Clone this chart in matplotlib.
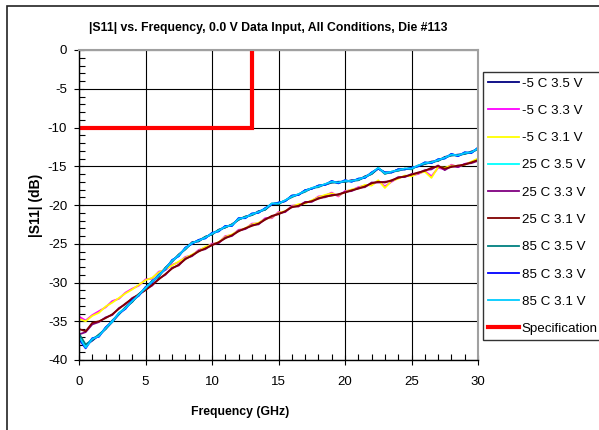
import numpy as np
import matplotlib
matplotlib.use("Agg")
import matplotlib.pyplot as plt
from matplotlib import font_manager
from matplotlib.patches import Rectangle
from matplotlib.ticker import MultipleLocator


def pick_font(*names):
    for n in names:
        try:
            font_manager.findfont(n, fallback_to_default=False)
            return n
        except Exception:
            continue
    return "DejaVu Sans"


FONT = pick_font("Liberation Sans", "Arial")
plt.rcParams["axes.unicode_minus"] = False

# Frequency sweep (GHz), 0.5 GHz steps
freq = np.linspace(0, 30, 61)

# |S11| in dB per condition
s_m5_35 = [-37.2, -38.1, -37.5, -36.8, -36.0, -35.1, -34.1, -33.2, -32.5, -31.5,
           -30.8, -29.8, -29.2, -28.1, -27.3, -26.4, -25.7, -24.8, -24.7, -24.1,
           -23.8, -23.2, -22.9, -22.5, -21.9, -21.5, -21.3, -20.8, -20.6, -19.9,
           -19.7, -19.5, -18.8, -18.7, -18.1, -17.9, -17.5, -17.4, -17.1, -17.0,
           -17.0, -16.8, -16.8, -16.3, -16.0, -15.3, -15.8, -15.8, -15.4, -15.4,
           -15.2, -15.0, -14.7, -14.4, -14.3, -13.8, -13.6, -13.5, -13.4, -13.1,
           -12.8]
s_m5_33 = [-34.4, -34.9, -34.2, -33.7, -33.2, -32.4, -32.1, -31.3, -30.8, -30.4,
           -29.6, -29.5, -28.6, -28.4, -27.7, -27.4, -26.7, -26.5, -25.8, -25.5,
           -25.0, -24.9, -24.0, -23.9, -23.2, -23.1, -22.4, -22.4, -21.7, -21.7,
           -20.9, -20.9, -20.1, -20.0, -19.7, -19.5, -18.9, -18.8, -18.4, -18.9,
           -18.2, -18.1, -17.7, -17.5, -17.4, -16.9, -17.6, -17.0, -16.5, -16.3,
           -16.2, -16.0, -15.6, -16.3, -15.2, -15.4, -14.8, -15.1, -14.7, -14.5,
           -14.1]
s_m5_31 = [-34.7, -35.0, -34.3, -33.9, -33.1, -32.6, -32.0, -31.4, -30.9, -30.3,
           -29.7, -29.4, -28.7, -28.3, -27.8, -27.3, -26.8, -26.4, -25.9, -25.4,
           -25.1, -24.8, -24.1, -23.8, -23.3, -23.0, -22.5, -22.3, -21.8, -21.6,
           -21.0, -20.8, -20.2, -19.9, -19.8, -19.4, -19.0, -18.7, -18.5, -18.8,
           -18.3, -18.0, -17.8, -17.4, -17.5, -16.8, -17.8, -16.9, -16.6, -16.2,
           -16.3, -15.9, -15.7, -16.5, -15.1, -15.2, -14.9, -15.0, -14.8, -14.4,
           -14.0]
s_25_35 = [-37.1, -38.2, -37.2, -36.9, -35.8, -35.1, -33.9, -33.3, -32.3, -31.7,
           -30.6, -30.0, -29.0, -28.3, -27.1, -26.6, -25.5, -25.0, -24.5, -24.3,
           -23.6, -23.4, -22.7, -22.7, -21.7, -21.7, -21.1, -21.0, -20.4, -19.9,
           -19.7, -19.5, -18.8, -18.7, -18.1, -17.9, -17.5, -17.4, -16.9, -17.2,
           -16.8, -17.0, -16.6, -16.5, -15.8, -15.3, -15.8, -15.8, -15.4, -15.4,
           -15.2, -15.0, -14.5, -14.6, -14.1, -14.0, -13.4, -13.7, -13.2, -13.3,
           -12.6]
s_25_33 = [-36.7, -36.4, -35.4, -35.1, -34.5, -34.2, -33.3, -32.8, -32.0, -31.6,
           -30.9, -30.4, -29.5, -29.0, -28.1, -27.8, -26.9, -26.6, -25.9, -25.7,
           -25.1, -24.9, -24.2, -24.0, -23.3, -23.1, -22.6, -22.5, -21.8, -21.5,
           -21.1, -20.9, -20.2, -20.2, -19.6, -19.6, -19.1, -19.0, -18.7, -18.7,
           -18.3, -18.2, -17.8, -17.7, -17.1, -17.1, -17.0, -16.9, -16.4, -16.4,
           -16.0, -15.9, -15.5, -15.4, -14.9, -15.5, -15.0, -15.1, -14.7, -14.6,
           -14.3]
s_25_31 = [-36.0, -36.3, -35.2, -35.0, -34.6, -34.1, -33.4, -32.7, -32.1, -31.5,
           -31.0, -30.3, -29.6, -28.9, -28.2, -27.7, -27.0, -26.5, -26.0, -25.6,
           -25.2, -24.8, -24.3, -23.9, -23.4, -23.0, -22.7, -22.4, -21.9, -21.4,
           -21.2, -20.8, -20.3, -20.1, -19.7, -19.5, -19.2, -18.9, -18.8, -18.6,
           -18.4, -18.1, -17.9, -17.6, -17.2, -17.0, -17.1, -16.8, -16.5, -16.3,
           -16.1, -15.8, -15.6, -15.2, -15.0, -15.3, -15.1, -14.9, -14.8, -14.5,
           -14.2]
s_85_35 = [-36.6, -38.0, -37.4, -36.7, -36.0, -34.9, -34.1, -33.2, -32.5, -31.5,
           -30.8, -29.8, -29.2, -28.1, -27.3, -26.4, -25.7, -24.9, -24.6, -24.1,
           -23.8, -23.2, -22.9, -22.5, -21.9, -21.5, -21.3, -20.9, -20.6, -19.8,
           -19.9, -19.4, -19.0, -18.6, -18.3, -17.8, -17.7, -17.3, -17.1, -17.1,
           -17.0, -16.9, -16.8, -16.4, -16.0, -15.2, -16.0, -15.7, -15.6, -15.3,
           -15.4, -14.9, -14.7, -14.5, -14.3, -13.9, -13.6, -13.6, -13.4, -13.2,
           -12.8]
s_85_33 = [-37.3, -38.5, -37.2, -37.0, -35.8, -35.0, -34.0, -33.4, -32.3, -31.7,
           -30.6, -30.0, -29.0, -28.3, -27.1, -26.6, -25.5, -25.0, -24.5, -24.3,
           -23.6, -23.4, -22.7, -22.7, -21.7, -21.7, -21.1, -21.0, -20.4, -19.9,
           -19.7, -19.5, -18.8, -18.7, -18.1, -17.9, -17.5, -17.4, -16.9, -17.2,
           -16.8, -17.0, -16.6, -16.5, -15.8, -15.3, -15.8, -15.8, -15.4, -15.4,
           -15.2, -15.0, -14.5, -14.6, -14.1, -14.0, -13.4, -13.7, -13.2, -13.3,
           -12.6]
s_85_31 = [-37.0, -38.4, -37.3, -36.9, -35.9, -35.0, -34.0, -33.3, -32.4, -31.6,
           -30.7, -29.9, -29.1, -28.2, -27.2, -26.5, -25.6, -24.9, -24.6, -24.2,
           -23.7, -23.3, -22.8, -22.6, -21.8, -21.6, -21.2, -20.9, -20.5, -19.8,
           -19.8, -19.4, -18.9, -18.6, -18.2, -17.8, -17.6, -17.3, -17.0, -17.1,
           -16.9, -16.9, -16.7, -16.4, -15.9, -15.2, -15.9, -15.7, -15.5, -15.3,
           -15.3, -14.9, -14.6, -14.5, -14.2, -13.9, -13.5, -13.6, -13.3, -13.2,
           -12.7]

series_labels = ["-5 C 3.5 V", "-5 C 3.3 V", "-5 C 3.1 V",
                 "25 C 3.5 V", "25 C 3.3 V", "25 C 3.1 V",
                 "85 C 3.5 V", "85 C 3.3 V", "85 C 3.1 V"]
series_values = [s_m5_35, s_m5_33, s_m5_31,
                 s_25_35, s_25_33, s_25_31,
                 s_85_35, s_85_33, s_85_31]
series_colors = ["#000080", "#FF00FF", "#FFFF00",
                 "#00FFFF", "#800080", "#800000",
                 "#008080", "#0000FF", "#00CCFF"]

# Specification mask: -10 dB up to 13 GHz
spec_freq = [0, 13, 13]
spec_db = [-10, -10, 0]

W, H = 599, 430
fig = plt.figure(figsize=(W / 100, H / 100), dpi=100)
fig.patch.set_facecolor("white")

# outer chart frame
fig.add_artist(Rectangle((6.5 / W, -0.05), 1.2, 1 - 5.5 / H + 0.05,
                         transform=fig.transFigure, fill=False,
                         edgecolor="#222222", linewidth=1.2))

ax = fig.add_axes([79 / W, (H - 360) / H, 399 / W, 310 / H])

for vals, lab, col in zip(series_values, series_labels, series_colors):
    ax.plot(freq, vals, color=col, linewidth=1.3, label=lab)
ax.plot(spec_freq, spec_db, color="#FF0000", linewidth=3.0,
        label="Specification", solid_joinstyle="miter")

ax.set_xlim(0, 30)
ax.set_ylim(-40, 0)
ax.xaxis.set_major_locator(MultipleLocator(5))
ax.xaxis.set_minor_locator(MultipleLocator(1))
ax.yaxis.set_major_locator(MultipleLocator(5))
ax.yaxis.set_minor_locator(MultipleLocator(1))
ax.grid(True, which="major", color="black", linewidth=0.8)
ax.set_axisbelow(True)

ax.tick_params(which="major", direction="inout", length=7, width=0.8,
               labelsize=9.5, pad=5)
ax.tick_params(axis="x", which="major", pad=8)
ax.tick_params(which="minor", direction="in", length=4, width=0.8)
for lab in ax.get_xticklabels() + ax.get_yticklabels():
    lab.set_fontfamily(FONT)

for side in ("left", "bottom"):
    ax.spines[side].set_color("black")
    ax.spines[side].set_linewidth(1.0)
for side in ("top", "right"):
    ax.spines[side].set_color("#A0A0A0")
    ax.spines[side].set_linewidth(1.5)

fig.text(268 / W, 1 - 28 / H,
         "|S11| vs. Frequency, 0.0 V Data Input, All Conditions, Die #113",
         ha="center", va="center", fontsize=8.8, fontweight="bold",
         family=FONT)
fig.text(240 / W, 1 - 412 / H, "Frequency (GHz)", ha="center", va="center",
         fontsize=8.8, fontweight="bold", family=FONT)
fig.text(36 / W, 1 - 205 / H, "|S11| (dB)", ha="center", va="center",
         rotation=90, fontsize=10, fontweight="bold", family=FONT)

leg = ax.legend(loc="upper left", bbox_to_anchor=(483 / W, 1 - 72 / H),
                bbox_transform=fig.transFigure, frameon=True, fancybox=False,
                prop={"family": FONT, "size": 9.6}, handlelength=2.3,
                handletextpad=0.2, labelspacing=1.12, borderpad=0.4,
                borderaxespad=0)
leg.get_frame().set_edgecolor("black")
leg.get_frame().set_linewidth(1.0)

fig.savefig("out.png", dpi=100, facecolor="white")
